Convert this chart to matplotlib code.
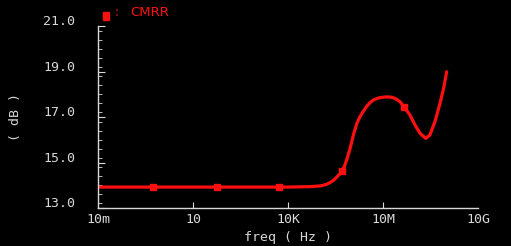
import matplotlib
matplotlib.use("Agg")
import matplotlib.pyplot as plt
import matplotlib.patches as mpatches
import numpy as np
from matplotlib.ticker import FixedLocator, MultipleLocator, NullLocator

# CMRR vs frequency (log10 Hz, dB)
LOG_FREQ = [-2.0, -1.0, 0.0, 1.0, 2.0, 3.0, 4.0, 4.38, 4.70, 5.01, 5.20, 5.33,
            5.45, 5.54, 5.62, 5.70, 5.78, 5.85, 5.96, 6.06, 6.17, 6.25, 6.33,
            6.41, 6.49, 6.59, 6.69, 6.80, 6.90, 7.06, 7.22, 7.38, 7.54, 7.66,
            7.85, 8.01, 8.17, 8.35, 8.48, 8.64, 8.80, 8.92, 9.01]
CMRR_DB = [13.92, 13.92, 13.92, 13.92, 13.92, 13.92, 13.92, 13.93, 13.94, 13.97,
           14.03, 14.12, 14.23, 14.36, 14.47, 14.61, 14.82, 15.10, 15.61, 16.19,
           16.70, 16.95, 17.14, 17.32, 17.48, 17.63, 17.74, 17.81, 17.85, 17.88,
           17.88, 17.82, 17.67, 17.45, 17.09, 16.65, 16.28, 16.06, 16.21, 16.79,
           17.60, 18.30, 18.99]
MARKER_LOG_FREQ = [-0.25, 1.75, 3.73, 5.70, 7.66]

X_TICKS = [1e-2, 1e1, 1e4, 1e7, 1e10]
X_TICK_LABELS = ["10m", "10", "10K", "10M", "10G"]
Y_TICKS = [13.0, 15.0, 17.0, 19.0, 21.0]

FG = "#d8d8d8"
RED = "#ff1010"

fig = plt.figure(figsize=(5.11, 2.46), dpi=100)
fig.patch.set_facecolor("black")
ax = fig.add_axes([98 / 511, 1 - 208 / 246, 380 / 511, 182 / 246])
ax.set_facecolor("black")

freq = 10 ** np.array(LOG_FREQ)
ax.plot(freq, CMRR_DB, color=RED, lw=2.3, solid_joinstyle="round",
        solid_capstyle="round")
mf = 10 ** np.array(MARKER_LOG_FREQ)
my = np.interp(MARKER_LOG_FREQ, LOG_FREQ, CMRR_DB)
ax.plot(mf, my, ls="none", marker="s", ms=5, color=RED)

ax.set_xscale("log")
ax.set_xlim(1e-2, 1e10)
ax.set_ylim(13.0, 21.0)

for s in ["top", "right"]:
    ax.spines[s].set_visible(False)
for s in ["left", "bottom"]:
    ax.spines[s].set_color(FG)
    ax.spines[s].set_linewidth(1.0)

ax.xaxis.set_major_locator(FixedLocator([1e1, 1e4, 1e7]))
ax.xaxis.set_minor_locator(NullLocator())
ax.tick_params(axis="x", which="major", direction="in", length=4,
               color=FG, labelbottom=False)
for xv, lab in zip(X_TICKS, X_TICK_LABELS):
    ax.text(xv, -0.065, lab, transform=ax.get_xaxis_transform(),
            ha="center", va="center", color=FG, fontsize=9.5,
            family="DejaVu Sans Mono")

ax.yaxis.set_major_locator(FixedLocator(Y_TICKS))
ax.yaxis.set_minor_locator(MultipleLocator(0.4))
ax.tick_params(axis="y", which="major", direction="in", length=5,
               color=FG, labelleft=False)
ax.tick_params(axis="y", which="minor", direction="in", length=3, color=FG)
for yv in Y_TICKS:
    ax.text(-0.06, yv + 0.18, f"{yv:.1f}", transform=ax.get_yaxis_transform(),
            ha="right", va="center", color=FG, fontsize=9.5,
            family="DejaVu Sans Mono")

fig.text(15 / 511, 1 - 117 / 246, "( dB )", rotation=90, ha="center",
         va="center", color=FG, fontsize=9.5, family="DejaVu Sans Mono")
fig.text(288 / 511, 1 - 237 / 246, "freq ( Hz )", ha="center", va="center",
         color=FG, fontsize=9.5, family="DejaVu Sans Mono")

# legend
fig.patches.append(mpatches.Rectangle((103 / 511, 1 - 20 / 246), 6 / 511,
                                      8 / 246, color=RED,
                                      transform=fig.transFigure))
fig.text(113 / 511, 1 - 13 / 246, ":", ha="left", va="center",
         color="#aa1010", fontsize=9.5, family="DejaVu Sans Mono")
fig.text(130 / 511, 1 - 12 / 246, "CMRR", ha="left", va="center",
         color=RED, fontsize=9.5, family="DejaVu Sans")

fig.savefig("out.png", dpi=100, facecolor="black")
